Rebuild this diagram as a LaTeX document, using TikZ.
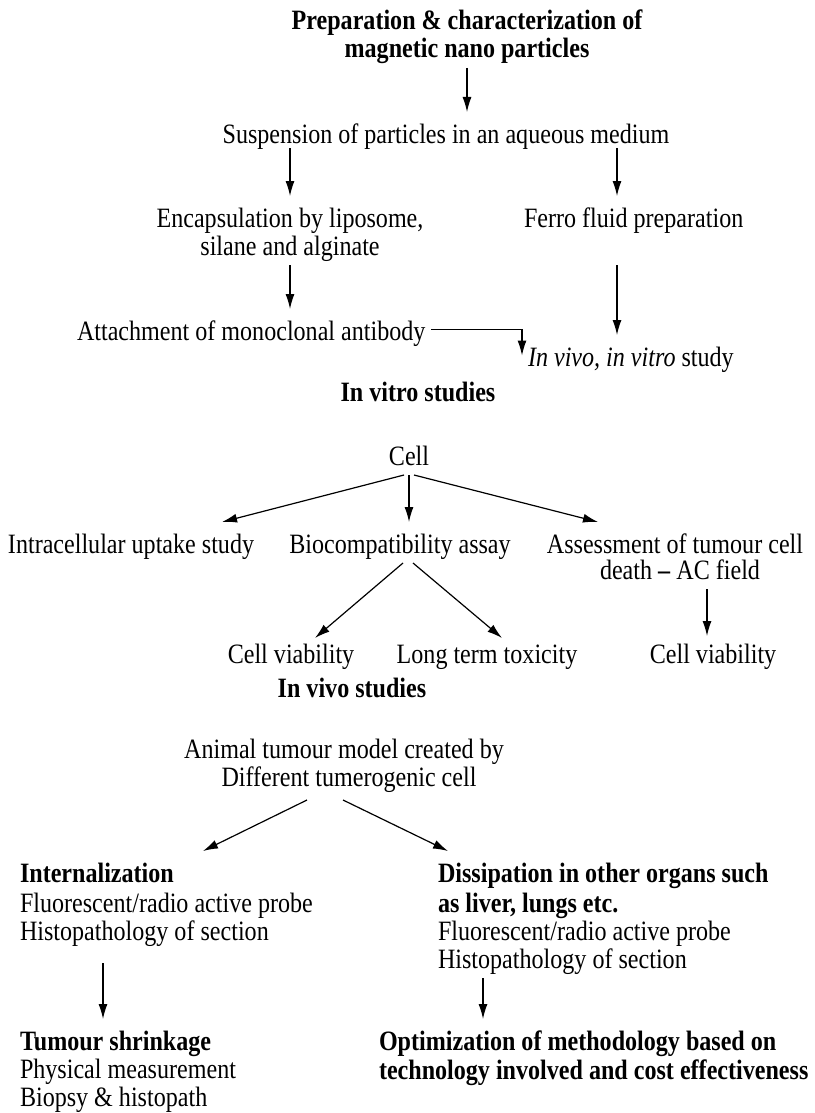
\documentclass[tikz,border=0pt]{standalone}
\usepackage{fontspec}
\setmainfont{Liberation Serif}[FakeStretch=0.86]
\usetikzlibrary{arrows.meta}

\begin{document}
\begin{tikzpicture}[x=0.5pt,y=-0.5pt,
        txt/.style={anchor=base,inner sep=0pt,outer xsep=3pt,outer ysep=3.5pt,text height=12pt,text depth=1.5pt,font=\fontsize{14}{15}\selectfont},
        neg/.style={txt,font=\fontsize{14}{15}\selectfont\bfseries},
        flecha/.style={-{Latex[length=7.5pt,width=4.5pt]},line width=0.6pt}]
        % marco
        \useasboundingbox (0,0) rectangle (814,1113);

        % Preparacion de particulas
        \node[neg] (tit1) at (467,30) {Preparation \& characterization of};
        \node[neg] (tit2) at (467,58) {magnetic nano particles};
        \node[txt] (susp) at (446,143) {Suspension of particles in an aqueous medium};
        \node[txt] (enc1) at (290,227) {Encapsulation by liposome,};
        \node[txt] (enc2) at (290,255) {silane and alginate};
        \node[txt,anchor=base west] (ferro) at (518,227) {Ferro fluid preparation};
        \node[txt,anchor=base west] (anti) at (71,340) {Attachment of monoclonal antibody};
        \node[txt,anchor=base west] (estudio) at (522,366) {\textit{In vivo, in vitro} study};

        \draw[flecha] (tit2.south) -- (tit2.south |- susp.north);
        \draw[flecha] ([yshift=2.5pt]susp.south -| enc1) -- (enc1.north);
        \draw[flecha] ([yshift=2.5pt]susp.south -| 617,0) -- (ferro.north -| 617,0);
        \draw[flecha] (enc2.south) -- (enc2.south |- anti.north);
        \draw[flecha] (enc2.south -| 617,0) -- (estudio.north -| 617,0);
        \draw[flecha] (anti.east) -| (estudio.west);

        % In vitro
        \node[neg] (vitro) at (418,401) {In vitro studies};
        \node[txt] (cel) at (409,465) {Cell};
        \node[txt,anchor=base west] (intra) at (2,553) {Intracellular uptake study};
        \node[txt] (bio) at (400,553) {Biocompatibility assay};
        \node[txt] (eval1) at (675,553) {Assessment of tumour cell};
        \node[txt] (eval2) at (680,579) {death \textbf{--} AC field};
        \node[txt] (via1) at (291,663) {Cell viability};
        \node[txt] (tox) at (487,663) {Long term toxicity};
        \node[txt] (via2) at (713,663) {Cell viability};

        \draw[flecha] ([xshift=-2.5pt]cel.south) -- ([xshift=-19pt]intra.north east);
        \draw[flecha] (cel.south) -- (cel.south |- bio.north);
        \draw[flecha] ([xshift=2.5pt]cel.south) -- ([xshift=-38.5pt]eval1.north);
        \draw[flecha] ([xshift=1.5pt]bio.south) -- ([xshift=12pt,yshift=-3pt]via1.north);
        \draw[flecha] ([xshift=6.5pt]bio.south) -- ([xshift=7.5pt,yshift=-3pt]tox.north);
        \draw[flecha] ([xshift=13.5pt]eval2.south) -- ([xshift=13.5pt,yshift=-2pt]eval2.south |- via2.north);

        % In vivo
        \node[neg] (vivo) at (352,697) {In vivo studies};
        \node[txt] (ani1) at (344,758) {Animal tumour model created by};
        \node[txt] (ani2) at (349,786) {Different tumerogenic cell};
        \foreach \y/\nom/\texto in {882/int1/{\textbf{Internalization}},912/int2/{Fluorescent/radio active probe},940/int3/{Histopathology of section},
                1050/red1/{\textbf{Tumour shrinkage}},1078/red2/{Physical measurement},1106/red3/{Biopsy \& histopath}}
            \node[txt,anchor=base west] (\nom) at (14,\y) {\texto};
        \foreach \y/\nom/\texto in {882/dis1/{\textbf{Dissipation in other organs such}},912/dis2/{\textbf{as liver, lungs etc.}},
                940/dis3/{Fluorescent/radio active probe},968/dis4/{Histopathology of section}}
            \node[txt,anchor=base west] (\nom) at (432,\y) {\texto};
        \node[neg,anchor=base west] (opt1) at (373,1050) {Optimization of methodology based on};
        \node[neg,anchor=base west] (opt2) at (373,1079) {technology involved and cost effectiveness};

        \draw[flecha] ([xshift=-21pt,yshift=-2pt]ani2.south) -- ([xshift=94.5pt]int1.north west);
        \draw[flecha] ([xshift=-3pt,yshift=-2pt]ani2.south) -- ([xshift=8pt]dis1.north west);
        \draw[flecha] ([xshift=44.5pt,yshift=-6.5pt]int3.south west) -- ([xshift=44.5pt]int3.south west |- red1.north);
        \draw[flecha] ([xshift=25.5pt]dis4.south west) -- ([xshift=25.5pt]dis4.south west |- opt1.north);
\end{tikzpicture}
\end{document}
